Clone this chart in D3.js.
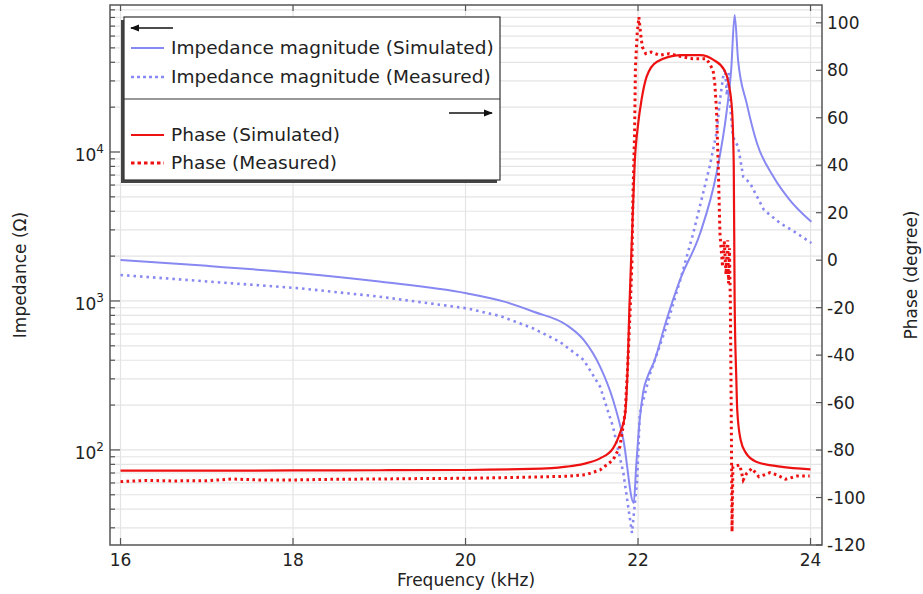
<!DOCTYPE html>
<html>
<head>
<meta charset="utf-8">
<script src="https://cdn.jsdelivr.net/npm/d3@7"></script>
<style>
  body { margin: 0; background: #fff; }
  text { font-family: "DejaVu Sans", sans-serif; fill: #222; }
</style>
</head>
<body>
<svg id="chart"></svg>
<script>
// frequency in kHz, impedance in ohm, phase in degrees
var simZFreq = [16.0, 17.0, 18.08, 19.0, 20.01, 20.45, 20.79, 21.17, 21.37, 21.56, 21.71, 21.83, 21.95, 21.98, 22.02, 22.06, 22.12, 22.18, 22.33, 22.49, 22.72, 22.91, 23.03, 23.08, 23.12, 23.16, 23.26, 23.38, 23.57, 23.76, 24.01];
var simZ = [1880, 1720, 1535, 1350, 1127, 990, 847, 690, 547, 362, 217, 117, 44, 80, 160, 245, 320, 382, 745, 1400, 2846, 7200, 19140, 35500, 83000, 41400, 21200, 11400, 6820, 4760, 3400];

var measZFreq = [16.0, 17.0, 18.08, 19.0, 20.01, 20.4, 20.78, 21.09, 21.37, 21.56, 21.71, 21.83, 21.93, 21.99, 22.02, 22.14, 22.33, 22.49, 22.64, 22.83, 22.91, 22.95, 22.99, 23.01, 23.03, 23.05, 23.07, 23.10, 23.16, 23.22, 23.30, 23.46, 23.65, 23.80, 24.01];
var measZ = [1494, 1352, 1216, 1069, 893, 793, 656, 533, 402, 266, 143, 70, 27.7, 63, 174, 326, 674, 1384, 2846, 7960, 13360, 22340, 33000, 36000, 24000, 34000, 20000, 12700, 10860, 6820, 6170, 4080, 3320, 2950, 2450];

var simPhaseFreq = [16.0, 17.0, 18.0, 19.0, 20.0, 21.0, 21.17, 21.37, 21.56, 21.71, 21.79, 21.85, 21.88, 21.90, 21.93, 21.96, 22.00, 22.04, 22.10, 22.22, 22.49, 22.72, 22.88, 23.00, 23.05, 23.09, 23.11, 23.12, 23.14, 23.15, 23.19, 23.25, 23.37, 23.65, 24.0];
var simPhase = [-88.7, -88.7, -88.6, -88.5, -88.4, -87.6, -87.0, -85.8, -83.5, -79.3, -72.9, -65, -45, -20, 10, 40, 57, 67.4, 77.3, 83.6, 86.4, 86.4, 84.3, 80.1, 74.5, 63.2, 39.4, -16.8, -50.5, -63, -75.8, -81.2, -84.9, -87.0, -88.1];

var measPhaseFreq = [16.0, 16.3, 16.6, 17.0, 17.3, 17.6, 18.0, 18.5, 19.0, 19.5, 20.0, 20.5, 21.0, 21.2, 21.4, 21.56, 21.71, 21.79, 21.85, 21.88, 21.91, 21.93, 21.94, 21.96, 21.97, 21.99, 22.01, 22.03, 22.05, 22.09, 22.15, 22.25, 22.36, 22.5, 22.63, 22.79, 22.83, 22.87, 22.89, 22.91, 22.93, 22.95, 22.98, 23.00, 23.02, 23.04, 23.05, 23.06, 23.07, 23.08, 23.09, 23.10, 23.18, 23.22, 23.26, 23.32, 23.40, 23.46, 23.53, 23.61, 23.71, 23.85, 23.99];
var measPhase = [-93.3, -92.8, -93.0, -92.9, -92.2, -92.6, -92.6, -92.3, -92.2, -92.0, -91.9, -91.6, -91.2, -91.0, -90.3, -88.4, -84.2, -78.6, -64.5, -45, -20, 0, 25.3, 53.3, 81.4, 95.4, 102.4, 95.4, 89.8, 87, 87.7, 86.3, 87, 85.8, 84.9, 84.9, 82.8, 80, 74.4, 63.2, 39.3, 11.2, -2.8, 8, -6, 8.4, -9.8, 5, -16.8, -60, -114.4, -87, -86.3, -92.6, -89.8, -87.7, -91.2, -90.5, -89.5, -90.5, -92.3, -90.9, -90.9];

var freqTicks = [16, 18, 20, 22, 24];
var phaseTicks = [-120, -100, -80, -60, -40, -20, 0, 20, 40, 60, 80, 100];
var zLabelTicks = [100, 1000, 10000];
var zLabelExp = ['2', '3', '4'];

var legendZ = ['Impedance magnitude (Simulated)', 'Impedance magnitude (Measured)'];
var legendPhase = ['Phase (Simulated)', 'Phase (Measured)'];

var width = 923, height = 594;
var plotL = 110, plotR = 822, plotT = 5, plotB = 545;
var blue = '#8888f2', red = '#ee1111';

var svg = d3.select('#chart')
    .attr('width', width)
    .attr('height', height);

var x = d3.scaleLinear().domain([15.878, 24.133]).range([plotL, plotR]);
var yZ = d3.scaleLog().domain([23.0, 97000]).range([plotB, plotT]);
var yP = d3.scaleLinear().domain([-120, 107.5]).range([plotB, plotT]);

var defs = svg.append('defs');
defs.append('clipPath').attr('id', 'plotclip')
    .append('rect')
    .attr('x', plotL).attr('y', plotT)
    .attr('width', plotR - plotL).attr('height', plotB - plotT);

// grid
var zTicks = yZ.ticks();
svg.append('g').selectAll('line')
    .data(zTicks)
    .enter()
    .append('line')
    .attr('x1', plotL).attr('x2', plotR)
    .attr('y1', function(d) { return yZ(d); })
    .attr('y2', function(d) { return yZ(d); })
    .attr('stroke', '#e4e4e4')
    .attr('stroke-width', 1.2);

svg.append('g').selectAll('line')
    .data(freqTicks)
    .enter()
    .append('line')
    .attr('x1', function(d) { return x(d); })
    .attr('x2', function(d) { return x(d); })
    .attr('y1', plotT).attr('y2', plotB)
    .attr('stroke', '#e4e4e4')
    .attr('stroke-width', 1.2);

// curves
function zip(fs, vs) {
    return fs.map(function(f, i) { return [f, vs[i]]; });
}

var plot = svg.append('g').attr('clip-path', 'url(#plotclip)');

var zLine = d3.line()
    .x(function(d) { return x(d[0]); })
    .y(function(d) { return yZ(d[1]); });
var pLine = d3.line()
    .x(function(d) { return x(d[0]); })
    .y(function(d) { return yP(d[1]); });

plot.append('path')
    .attr('d', zLine.curve(d3.curveMonotoneX)(zip(simZFreq, simZ)))
    .attr('fill', 'none')
    .attr('stroke', blue)
    .attr('stroke-width', 2);

plot.append('path')
    .attr('d', zLine.curve(d3.curveLinear)(zip(measZFreq, measZ)))
    .attr('fill', 'none')
    .attr('stroke', blue)
    .attr('stroke-width', 2.6)
    .attr('stroke-dasharray', '2.5,4');

plot.append('path')
    .attr('d', pLine.curve(d3.curveMonotoneX)(zip(simPhaseFreq, simPhase)))
    .attr('fill', 'none')
    .attr('stroke', red)
    .attr('stroke-width', 2.2);

plot.append('path')
    .attr('d', pLine.curve(d3.curveLinear)(zip(measPhaseFreq, measPhase)))
    .attr('fill', 'none')
    .attr('stroke', red)
    .attr('stroke-width', 3)
    .attr('stroke-dasharray', '2.6,3.4');

// frame
var axisColor = '#555';
svg.append('rect')
    .attr('x', plotL).attr('y', plotT)
    .attr('width', plotR - plotL).attr('height', plotB - plotT)
    .attr('fill', 'none')
    .attr('stroke', axisColor)
    .attr('stroke-width', 1.5);

// left ticks (log)
svg.append('g').selectAll('line')
    .data(zTicks)
    .enter()
    .append('line')
    .attr('x1', plotL)
    .attr('x2', function(d) { return zLabelTicks.indexOf(d) >= 0 ? plotL + 10 : plotL + 5; })
    .attr('y1', function(d) { return yZ(d); })
    .attr('y2', function(d) { return yZ(d); })
    .attr('stroke', axisColor)
    .attr('stroke-width', 1.2);

var zLabels = svg.append('g').selectAll('text')
    .data(zLabelTicks)
    .enter()
    .append('text')
    .attr('x', 104)
    .attr('y', function(d) { return yZ(d) + 9; })
    .attr('text-anchor', 'end')
    .style('font-size', '17px');
zLabels.append('tspan').text('10');
zLabels.append('tspan')
    .attr('dy', -8)
    .style('font-size', '12px')
    .text(function(d, i) { return zLabelExp[i]; });

// right ticks (phase)
svg.append('g').selectAll('line')
    .data(phaseTicks)
    .enter()
    .append('line')
    .attr('x1', plotR - 6).attr('x2', plotR)
    .attr('y1', function(d) { return yP(d); })
    .attr('y2', function(d) { return yP(d); })
    .attr('stroke', axisColor)
    .attr('stroke-width', 1.2);

svg.append('g').selectAll('text')
    .data(phaseTicks)
    .enter()
    .append('text')
    .attr('x', 827)
    .attr('y', function(d) { return yP(d); })
    .attr('dy', '0.36em')
    .style('font-size', '17px')
    .text(function(d) { return d; });

// bottom / top ticks
svg.append('g').selectAll('line')
    .data(freqTicks)
    .enter()
    .append('line')
    .attr('x1', function(d) { return x(d); })
    .attr('x2', function(d) { return x(d); })
    .attr('y1', plotB - 7).attr('y2', plotB)
    .attr('stroke', axisColor)
    .attr('stroke-width', 1.2);

svg.append('g').selectAll('line')
    .data(freqTicks)
    .enter()
    .append('line')
    .attr('x1', function(d) { return x(d); })
    .attr('x2', function(d) { return x(d); })
    .attr('y1', plotT).attr('y2', plotT + 6)
    .attr('stroke', axisColor)
    .attr('stroke-width', 1.2);

svg.append('g').selectAll('text')
    .data(freqTicks)
    .enter()
    .append('text')
    .attr('x', function(d) { return x(d); })
    .attr('y', 566)
    .attr('text-anchor', 'middle')
    .style('font-size', '17px')
    .text(function(d) { return d; });

// axis titles
svg.append('text')
    .attr('x', 466).attr('y', 586)
    .attr('text-anchor', 'middle')
    .style('font-size', '17px')
    .text('Frequency (kHz)');

svg.append('text')
    .attr('transform', 'translate(26,275) rotate(-90)')
    .attr('text-anchor', 'middle')
    .style('font-size', '17px')
    .text('Impedance (Ω)');

svg.append('text')
    .attr('transform', 'translate(917,275) rotate(-90)')
    .attr('text-anchor', 'middle')
    .style('font-size', '17px')
    .text('Phase (degree)');

// legend
var lg = svg.append('g');
lg.append('rect')
    .attr('x', 121).attr('y', 20)
    .attr('width', 376).attr('height', 163)
    .attr('fill', '#444');
lg.append('rect')
    .attr('x', 124).attr('y', 17)
    .attr('width', 376).attr('height', 163)
    .attr('fill', '#fff')
    .attr('stroke', '#333')
    .attr('stroke-width', 1.2);
lg.append('line')
    .attr('x1', 124).attr('x2', 500)
    .attr('y1', 99).attr('y2', 99)
    .attr('stroke', '#333')
    .attr('stroke-width', 1.2);

defs.append('marker')
    .attr('id', 'arrowhead')
    .attr('viewBox', '0 0 10 10')
    .attr('refX', 9).attr('refY', 5)
    .attr('markerWidth', 7).attr('markerHeight', 7)
    .attr('orient', 'auto-start-reverse')
    .append('path')
    .attr('d', 'M0,1 L10,5 L0,9 Z')
    .attr('fill', '#111');

lg.append('line')
    .attr('x1', 173).attr('x2', 131)
    .attr('y1', 28).attr('y2', 28)
    .attr('stroke', '#111').attr('stroke-width', 1.3)
    .attr('marker-end', 'url(#arrowhead)');
lg.append('line')
    .attr('x1', 449).attr('x2', 492)
    .attr('y1', 113).attr('y2', 113)
    .attr('stroke', '#111').attr('stroke-width', 1.3)
    .attr('marker-end', 'url(#arrowhead)');

var legendRows = [
    { label: legendZ[0], color: blue, dash: null, w: 2, y: 48 },
    { label: legendZ[1], color: blue, dash: '3,3', w: 2.6, y: 77 },
    { label: legendPhase[0], color: red, dash: null, w: 2.2, y: 135 },
    { label: legendPhase[1], color: red, dash: '3.5,3', w: 3, y: 163 }
];

lg.selectAll('line.sample')
    .data(legendRows)
    .enter()
    .append('line')
    .attr('class', 'sample')
    .attr('x1', 131).attr('x2', 164)
    .attr('y1', function(d) { return d.y; })
    .attr('y2', function(d) { return d.y; })
    .attr('stroke', function(d) { return d.color; })
    .attr('stroke-width', function(d) { return d.w; })
    .attr('stroke-dasharray', function(d) { return d.dash; });

lg.selectAll('text')
    .data(legendRows)
    .enter()
    .append('text')
    .attr('x', 171)
    .attr('y', function(d) { return d.y; })
    .attr('dy', '0.35em')
    .style('font-size', '18.5px')
    .text(function(d) { return d.label; });
</script>
</body>
</html>
